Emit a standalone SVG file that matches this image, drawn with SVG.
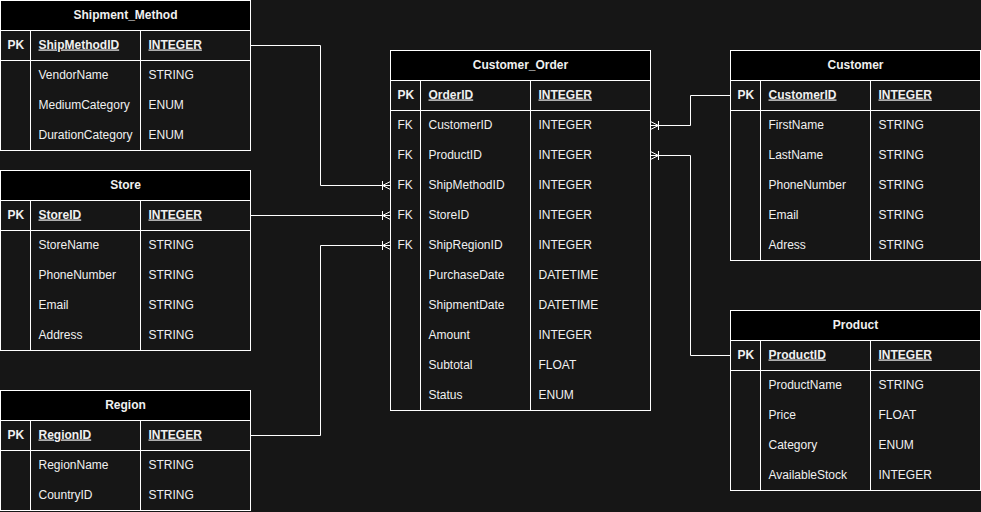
<svg xmlns="http://www.w3.org/2000/svg" width="981" height="512" viewBox="0 0 981 512">
<style>
.bg{fill:#161616}
.tb{fill:#161616;stroke:#ffffff;stroke-width:1}
.hd{fill:#000000;stroke:#ffffff;stroke-width:1}
.ln{stroke:#ffffff;stroke-width:1;fill:none}
text{font-family:"Liberation Sans",Arial,Helvetica,sans-serif;font-size:12px;fill:#f0f0f0}
.h{font-weight:bold;text-anchor:middle}
.b{font-weight:bold}
.u{font-weight:bold;text-decoration:underline}
.cn{stroke:#ffffff;stroke-width:1;fill:none}
</style>
<defs>
<marker id="crow" markerUnits="userSpaceOnUse" markerWidth="14" markerHeight="14" viewBox="-12 -7 14 14" refX="0" refY="0" orient="auto" overflow="visible">
<path d="M-8,-4.5 L-8,4.5 M-8,0 L0,-4 M-8,0 L0,4 M-8,0 L0,0" stroke="#ffffff" stroke-width="1" fill="none"/>
</marker>
</defs>
<rect class="bg" x="0" y="0" width="981" height="512"/>

<g id="connectors">
<path class="cn" d="M250.5,45.5 H320.5 V185.5 H390.5" marker-end="url(#crow)"/>
<path class="cn" d="M250.5,215.5 H390.5" marker-end="url(#crow)"/>
<path class="cn" d="M250.5,435.5 H320.5 V245.5 H390.5" marker-end="url(#crow)"/>
<path class="cn" d="M730.5,95.5 H690.5 V125.5 H650.5" marker-end="url(#crow)"/>
<path class="cn" d="M730.5,355.5 H690.5 V155.5 H650.5" marker-end="url(#crow)"/>
</g>

<g id="Shipment_Method" transform="translate(0.5,0.5)">
<rect class="tb" x="0" y="0" width="250" height="150"/>
<rect class="hd" x="0" y="0" width="250" height="30"/>
<path class="ln" d="M0,60 H250 M30,30 V150 M140,30 V150"/>
<text class="h" x="125" y="18">Shipment_Method</text>
<text class="b" x="7" y="48">PK</text><text class="u" x="38" y="48">ShipMethodID</text><text class="u" x="148" y="48">INTEGER</text>
<text x="38" y="78">VendorName</text><text x="148" y="78">STRING</text>
<text x="38" y="108">MediumCategory</text><text x="148" y="108">ENUM</text>
<text x="38" y="138">DurationCategory</text><text x="148" y="138">ENUM</text>
</g>

<g id="Store" transform="translate(0.5,170.5)">
<rect class="tb" x="0" y="0" width="250" height="180"/>
<rect class="hd" x="0" y="0" width="250" height="30"/>
<path class="ln" d="M0,60 H250 M30,30 V180 M140,30 V180"/>
<text class="h" x="125" y="18">Store</text>
<text class="b" x="7" y="48">PK</text><text class="u" x="38" y="48">StoreID</text><text class="u" x="148" y="48">INTEGER</text>
<text x="38" y="78">StoreName</text><text x="148" y="78">STRING</text>
<text x="38" y="108">PhoneNumber</text><text x="148" y="108">STRING</text>
<text x="38" y="138">Email</text><text x="148" y="138">STRING</text>
<text x="38" y="168">Address</text><text x="148" y="168">STRING</text>
</g>

<g id="Region" transform="translate(0.5,390.5)">
<rect class="tb" x="0" y="0" width="250" height="120"/>
<rect class="hd" x="0" y="0" width="250" height="30"/>
<path class="ln" d="M0,60 H250 M30,30 V120 M140,30 V120"/>
<text class="h" x="125" y="18">Region</text>
<text class="b" x="7" y="48">PK</text><text class="u" x="38" y="48">RegionID</text><text class="u" x="148" y="48">INTEGER</text>
<text x="38" y="78">RegionName</text><text x="148" y="78">STRING</text>
<text x="38" y="108">CountryID</text><text x="148" y="108">STRING</text>
</g>

<g id="Customer_Order" transform="translate(390.5,50.5)">
<rect class="tb" x="0" y="0" width="260" height="360"/>
<rect class="hd" x="0" y="0" width="260" height="30"/>
<path class="ln" d="M0,60 H260 M30,30 V360 M140,30 V360"/>
<text class="h" x="130" y="18">Customer_Order</text>
<text class="b" x="7" y="48">PK</text><text class="u" x="38" y="48">OrderID</text><text class="u" x="148" y="48">INTEGER</text>
<text x="7" y="78">FK</text><text x="38" y="78">CustomerID</text><text x="148" y="78">INTEGER</text>
<text x="7" y="108">FK</text><text x="38" y="108">ProductID</text><text x="148" y="108">INTEGER</text>
<text x="7" y="138">FK</text><text x="38" y="138">ShipMethodID</text><text x="148" y="138">INTEGER</text>
<text x="7" y="168">FK</text><text x="38" y="168">StoreID</text><text x="148" y="168">INTEGER</text>
<text x="7" y="198">FK</text><text x="38" y="198">ShipRegionID</text><text x="148" y="198">INTEGER</text>
<text x="38" y="228">PurchaseDate</text><text x="148" y="228">DATETIME</text>
<text x="38" y="258">ShipmentDate</text><text x="148" y="258">DATETIME</text>
<text x="38" y="288">Amount</text><text x="148" y="288">INTEGER</text>
<text x="38" y="318">Subtotal</text><text x="148" y="318">FLOAT</text>
<text x="38" y="348">Status</text><text x="148" y="348">ENUM</text>
</g>

<g id="Customer" transform="translate(730.5,50.5)">
<rect class="tb" x="0" y="0" width="250" height="210"/>
<rect class="hd" x="0" y="0" width="250" height="30"/>
<path class="ln" d="M0,60 H250 M30,30 V210 M140,30 V210"/>
<text class="h" x="125" y="18">Customer</text>
<text class="b" x="7" y="48">PK</text><text class="u" x="38" y="48">CustomerID</text><text class="u" x="148" y="48">INTEGER</text>
<text x="38" y="78">FirstName</text><text x="148" y="78">STRING</text>
<text x="38" y="108">LastName</text><text x="148" y="108">STRING</text>
<text x="38" y="138">PhoneNumber</text><text x="148" y="138">STRING</text>
<text x="38" y="168">Email</text><text x="148" y="168">STRING</text>
<text x="38" y="198">Adress</text><text x="148" y="198">STRING</text>
</g>

<g id="Product" transform="translate(730.5,310.5)">
<rect class="tb" x="0" y="0" width="250" height="180"/>
<rect class="hd" x="0" y="0" width="250" height="30"/>
<path class="ln" d="M0,60 H250 M30,30 V180 M140,30 V180"/>
<text class="h" x="125" y="18">Product</text>
<text class="b" x="7" y="48">PK</text><text class="u" x="38" y="48">ProductID</text><text class="u" x="148" y="48">INTEGER</text>
<text x="38" y="78">ProductName</text><text x="148" y="78">STRING</text>
<text x="38" y="108">Price</text><text x="148" y="108">FLOAT</text>
<text x="38" y="138">Category</text><text x="148" y="138">ENUM</text>
<text x="38" y="168">AvailableStock</text><text x="148" y="168">INTEGER</text>
</g>
</svg>
